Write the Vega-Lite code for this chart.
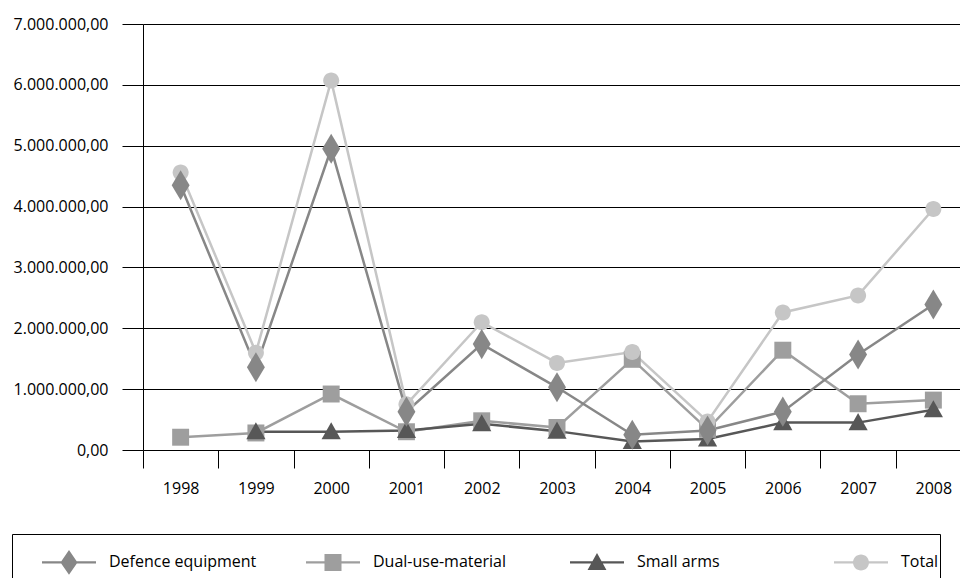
{
  "$schema": "https://vega.github.io/schema/vega-lite/v6.json",
  "width": 828,
  "height": 426,
  "autosize": {"type": "none"},
  "padding": {"left": 143, "top": 24, "right": 0, "bottom": 128},
  "background": "white",
  "config": {
    "locale": {"number": {"decimal": ",", "thousands": ".", "grouping": [3], "currency": ["", " €"]}},
    "view": {"stroke": null},
    "font": "Open Sans"
  },
  "data": {
    "values": [
      {"year": "1998", "series": "Dual-use-material", "value": 210000},
      {"year": "1999", "series": "Dual-use-material", "value": 280000},
      {"year": "2000", "series": "Dual-use-material", "value": 920000},
      {"year": "2001", "series": "Dual-use-material", "value": 300000},
      {"year": "2002", "series": "Dual-use-material", "value": 480000},
      {"year": "2003", "series": "Dual-use-material", "value": 370000},
      {"year": "2004", "series": "Dual-use-material", "value": 1490000},
      {"year": "2005", "series": "Dual-use-material", "value": 340000},
      {"year": "2006", "series": "Dual-use-material", "value": 1640000},
      {"year": "2007", "series": "Dual-use-material", "value": 760000},
      {"year": "2008", "series": "Dual-use-material", "value": 820000},
      {"year": "1999", "series": "Small arms", "value": 300000},
      {"year": "2000", "series": "Small arms", "value": 300000},
      {"year": "2001", "series": "Small arms", "value": 320000},
      {"year": "2002", "series": "Small arms", "value": 430000},
      {"year": "2003", "series": "Small arms", "value": 310000},
      {"year": "2004", "series": "Small arms", "value": 140000},
      {"year": "2005", "series": "Small arms", "value": 180000},
      {"year": "2006", "series": "Small arms", "value": 450000},
      {"year": "2007", "series": "Small arms", "value": 450000},
      {"year": "2008", "series": "Small arms", "value": 660000},
      {"year": "1998", "series": "Total", "value": 4560000},
      {"year": "1999", "series": "Total", "value": 1600000},
      {"year": "2000", "series": "Total", "value": 6070000},
      {"year": "2001", "series": "Total", "value": 750000},
      {"year": "2002", "series": "Total", "value": 2100000},
      {"year": "2003", "series": "Total", "value": 1430000},
      {"year": "2004", "series": "Total", "value": 1610000},
      {"year": "2005", "series": "Total", "value": 470000},
      {"year": "2006", "series": "Total", "value": 2260000},
      {"year": "2007", "series": "Total", "value": 2540000},
      {"year": "2008", "series": "Total", "value": 3960000},
      {"year": "1998", "series": "Defence equipment", "value": 4350000},
      {"year": "1999", "series": "Defence equipment", "value": 1360000},
      {"year": "2000", "series": "Defence equipment", "value": 4950000},
      {"year": "2001", "series": "Defence equipment", "value": 630000},
      {"year": "2002", "series": "Defence equipment", "value": 1740000},
      {"year": "2003", "series": "Defence equipment", "value": 1030000},
      {"year": "2004", "series": "Defence equipment", "value": 250000},
      {"year": "2005", "series": "Defence equipment", "value": 320000},
      {"year": "2006", "series": "Defence equipment", "value": 630000},
      {"year": "2007", "series": "Defence equipment", "value": 1570000},
      {"year": "2008", "series": "Defence equipment", "value": 2390000}
    ]
  },
  "encoding": {
    "x": {
      "field": "year",
      "type": "ordinal",
      "scale": {"type": "band", "paddingInner": 0, "paddingOuter": 0},
      "axis": {
        "title": null,
        "labelAngle": 0,
        "labelFont": "Open Sans",
        "labelFontSize": 16,
        "labelColor": "black",
        "labelPadding": 12,
        "tickBand": "extent",
        "tickSize": 18,
        "tickColor": "black",
        "tickWidth": 1,
        "domain": false,
        "grid": false
      }
    },
    "y": {
      "field": "value",
      "type": "quantitative",
      "scale": {"domain": [0, 7000000], "nice": false},
      "axis": {
        "title": null,
        "values": [0, 1000000, 2000000, 3000000, 4000000, 5000000, 6000000, 7000000],
        "format": ",.2f",
        "labelFont": "Open Sans",
        "labelFontSize": 16,
        "labelColor": "black",
        "labelPadding": 14,
        "tickSize": 21,
        "tickColor": "black",
        "tickWidth": 1,
        "domain": true,
        "domainColor": "black",
        "domainWidth": 1,
        "grid": true,
        "gridColor": "black",
        "gridWidth": 1
      }
    }
  },
  "layer": [
    {
      "mark": {"type": "line", "strokeWidth": 2.5},
      "encoding": {
        "color": {
          "field": "series",
          "type": "nominal",
          "scale": {"domain": ["Defence equipment", "Dual-use-material", "Small arms", "Total"], "range": ["#878787", "#9e9e9e", "#575757", "#c6c6c6"]},
          "legend": null
        }
      }
    },
    {
      "mark": {"type": "point", "filled": true, "opacity": 1, "size": 1024, "strokeWidth": 0},
      "encoding": {
        "color": {
          "field": "series",
          "type": "nominal",
          "scale": {"domain": ["Defence equipment", "Dual-use-material", "Small arms", "Total"], "range": ["#878787", "#9e9e9e", "#575757", "#c6c6c6"]},
          "legend": null
        },
        "shape": {
          "field": "series",
          "type": "nominal",
          "scale": {
            "domain": ["Defence equipment", "Dual-use-material", "Small arms", "Total"],
            "range": [
              "M0,-0.94L0.56,0L0,0.94L-0.56,0Z",
              "M-0.53,-0.53H0.53V0.53H-0.53Z",
              "M0,-0.6L0.6,0.47L-0.6,0.47Z",
              "M-0.5,0A0.5,0.5,0,1,1,0.5,0A0.5,0.5,0,1,1,-0.5,0Z"
            ]
          },
          "legend": null
        }
      }
    },
    {
      "mark": {"type": "point", "filled": true, "opacity": 0, "strokeWidth": 0},
      "encoding": {
        "color": {
          "field": "series",
          "type": "nominal",
          "scale": {"domain": ["Defence equipment", "Dual-use-material", "Small arms", "Total"], "range": ["#878787", "#9e9e9e", "#575757", "#c6c6c6"]},
          "legend": {
            "orient": "none", "legendX": -131, "legendY": 510, "direction": "horizontal", "columns": 4,
            "title": " ", "titleOrient": "left", "titlePadding": 29, "titleFontSize": 16,
            "padding": 1, "strokeColor": "black", "symbolSize": 2916, "symbolStrokeWidth": 0, "symbolOpacity": 1,
            "labelFont": "Open Sans", "labelFontSize": 16, "labelColor": "black", "labelOffset": 13,
            "columnPadding": 49, "gridAlign": "all", "labelLimit": 0
          }
        },
        "shape": {
          "field": "series",
          "type": "nominal",
          "scale": {
            "domain": ["Defence equipment", "Dual-use-material", "Small arms", "Total"],
            "range": [
              "M0,-0.6L0,-0.6M0,0.6L0,0.6M-1,-0.045H1V0.045H-1Z M0,-0.46L0.315,0L0,0.46L-0.315,0Z",
              "M0,-0.6L0,-0.6M0,0.6L0,0.6M-1,-0.045H1V0.045H-1Z M-0.315,-0.315H0.315V0.315H-0.315Z",
              "M0,-0.6L0,-0.6M0,0.6L0,0.6M-1,-0.045H1V0.045H-1Z M0,-0.35L0.35,0.28L-0.35,0.28Z",
              "M0,-0.6L0,-0.6M0,0.6L0,0.6M-1,-0.045H1V0.045H-1Z M-0.296,0A0.296,0.296,0,1,1,0.296,0A0.296,0.296,0,1,1,-0.296,0Z"
            ]
          },
          "legend": {
            "orient": "none", "legendX": -131, "legendY": 510, "direction": "horizontal", "columns": 4,
            "title": " ", "titleOrient": "left", "titlePadding": 29, "titleFontSize": 16,
            "padding": 1, "strokeColor": "black", "symbolSize": 2916, "symbolStrokeWidth": 0, "symbolOpacity": 1,
            "labelFont": "Open Sans", "labelFontSize": 16, "labelColor": "black", "labelOffset": 13,
            "columnPadding": 49, "gridAlign": "all", "labelLimit": 0
          }
        }
      }
    }
  ],
  "resolve": {
    "scale": {"color": "independent", "shape": "independent"},
    "legend": {"color": "independent", "shape": "independent"}
  }
}
